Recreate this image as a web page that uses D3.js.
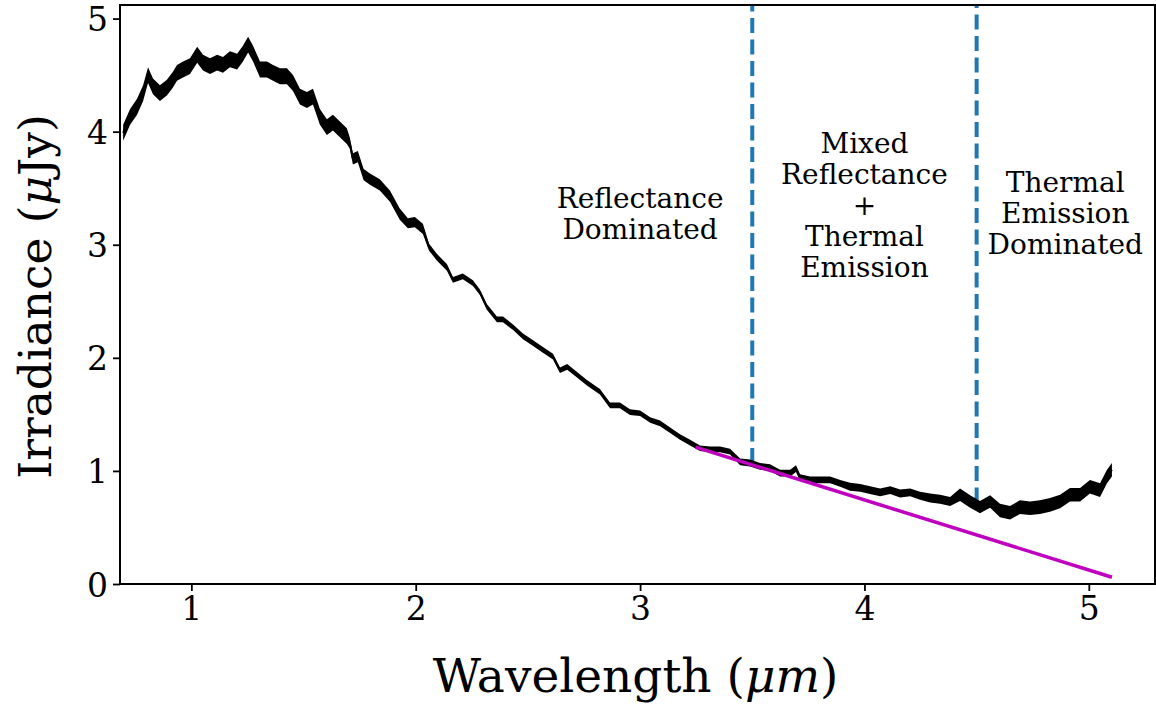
<!DOCTYPE html>
<html>
<head>
<meta charset="utf-8">
<script src="https://cdn.jsdelivr.net/npm/d3@7"></script>
<style>
  body { margin: 0; background: #fff; }
</style>
</head>
<body>
<div id="chart"></div>
<script>
const width = 1156
const height = 704
const margin = { top: 5, right: 1, bottom: 120, left: 120 }
const serif = '"DejaVu Serif", serif'

// spectrum (µm, µJy, half-width of the noise band)
const wavelength = [
  0.696, 0.727, 0.758, 0.785, 0.807, 0.829, 0.860, 0.891, 0.918, 0.936,
  0.963, 0.994, 1.026, 1.052, 1.083, 1.115, 1.141, 1.172, 1.204, 1.230,
  1.253, 1.275, 1.306, 1.337, 1.364, 1.395, 1.426, 1.453, 1.484, 1.515,
  1.542, 1.573, 1.604, 1.631, 1.662, 1.693, 1.706, 1.720, 1.742, 1.768,
  1.796, 1.840, 1.885, 1.929, 1.965, 1.996, 2.032, 2.059, 2.094, 2.139,
  2.166, 2.210, 2.255, 2.286, 2.317, 2.362, 2.389, 2.434, 2.478, 2.523,
  2.567, 2.612, 2.643, 2.675, 2.719, 2.763, 2.821, 2.866, 2.910, 2.955,
  3.000, 3.045, 3.089, 3.134, 3.178, 3.223, 3.267, 3.312, 3.357, 3.401,
  3.446, 3.490, 3.535, 3.579, 3.624, 3.669, 3.695, 3.713, 3.758, 3.802,
  3.847, 3.892, 3.936, 3.981, 4.025, 4.070, 4.115, 4.159, 4.204, 4.248,
  4.293, 4.337, 4.382, 4.426, 4.471, 4.515, 4.560, 4.604, 4.649, 4.693,
  4.738, 4.782, 4.827, 4.872, 4.916, 4.961, 5.005, 5.050, 5.081, 5.103
]
const irradiance = [
  3.99, 4.13, 4.22, 4.34, 4.50, 4.40, 4.34, 4.39, 4.46, 4.52,
  4.55, 4.58, 4.68, 4.61, 4.58, 4.61, 4.59, 4.64, 4.62, 4.69,
  4.77, 4.69, 4.55, 4.55, 4.52, 4.49, 4.49, 4.43, 4.31, 4.28,
  4.31, 4.13, 4.04, 4.08, 4.02, 3.96, 3.90, 3.76, 3.78, 3.62,
  3.58, 3.53, 3.43, 3.27, 3.19, 3.20, 3.14, 2.98, 2.89, 2.80,
  2.69, 2.72, 2.66, 2.58, 2.45, 2.34, 2.34, 2.27, 2.19, 2.13,
  2.07, 2.01, 1.89, 1.92, 1.85, 1.78, 1.70, 1.58, 1.58, 1.52,
  1.51, 1.45, 1.42, 1.36, 1.30, 1.25, 1.20, 1.19, 1.19, 1.17,
  1.08, 1.07, 1.04, 1.03, 0.98, 0.98, 1.02, 0.94, 0.92, 0.92,
  0.92, 0.89, 0.86, 0.85, 0.83, 0.81, 0.83, 0.80, 0.81, 0.78,
  0.76, 0.75, 0.73, 0.79, 0.73, 0.68, 0.73, 0.65, 0.63, 0.68,
  0.67, 0.68, 0.70, 0.73, 0.79, 0.79, 0.86, 0.83, 0.95, 1.01
]
const irradianceErr = [
  0.07, 0.07, 0.07, 0.07, 0.07, 0.07, 0.07, 0.07, 0.07, 0.07,
  0.07, 0.07, 0.07, 0.07, 0.07, 0.07, 0.07, 0.07, 0.07, 0.07,
  0.07, 0.07, 0.07, 0.07, 0.07, 0.07, 0.07, 0.07, 0.07, 0.07,
  0.07, 0.07, 0.07, 0.07, 0.07, 0.07, 0.05, 0.05, 0.05, 0.05,
  0.05, 0.05, 0.05, 0.05, 0.045, 0.045, 0.045, 0.03, 0.03, 0.03,
  0.025, 0.025, 0.025, 0.025, 0.025, 0.025, 0.025, 0.025, 0.025, 0.025,
  0.025, 0.025, 0.025, 0.025, 0.025, 0.025, 0.025, 0.025, 0.025, 0.025,
  0.025, 0.025, 0.025, 0.025, 0.025, 0.025, 0.025, 0.025, 0.025, 0.025,
  0.03, 0.03, 0.03, 0.03, 0.03, 0.03, 0.03, 0.03, 0.03, 0.03,
  0.03, 0.03, 0.035, 0.035, 0.035, 0.035, 0.035, 0.035, 0.035, 0.035,
  0.04, 0.04, 0.04, 0.055, 0.055, 0.055, 0.055, 0.06, 0.06, 0.06,
  0.06, 0.06, 0.06, 0.06, 0.06, 0.06, 0.06, 0.06, 0.06, 0.06
]

// reflectance extrapolation (magenta)
const fitWavelength = [3.247, 5.103]
const fitIrradiance = [1.21, 0.06]

// region boundaries: wavelength and the spectrum value they start from
const boundaryWavelength = [3.5, 4.5]
const boundaryFrom = [1.07, 0.72]

const regionX = [3.0, 4.0, 4.895]
const regionY = [3.325, 3.81, 3.465]
const regionText = [
  ['Reflectance', 'Dominated'],
  ['Mixed', 'Reflectance', '+', 'Thermal', 'Emission'],
  ['Thermal', 'Emission', 'Dominated']
]

const xTicks = [1, 2, 3, 4, 5]
const yTicks = [0, 1, 2, 3, 4, 5]
const xDomain = [0.682, 5.295]
const yDomain = [0, 5.12]

const innerWidth = width - margin.left - margin.right
const innerHeight = height - margin.top - margin.bottom

const svg = d3.select('#chart').append('svg')
  .attr('width', width)
  .attr('height', height)

const g = svg.append('g')
  .attr('transform', `translate(${margin.left}, ${margin.top})`)

const xScale = d3.scaleLinear().domain(xDomain).range([0, innerWidth])
const yScale = d3.scaleLinear().domain(yDomain).range([innerHeight, 0])

const spectrum = wavelength.map((w, i) => ({ w: w, v: irradiance[i], e: irradianceErr[i] }))

// dashed region boundaries (under the spectrum)
g.selectAll('.boundary').data(boundaryWavelength)
  .join('line')
  .attr('class', 'boundary')
  .attr('x1', d => xScale(d))
  .attr('x2', d => xScale(d))
  .attr('y1', (d, i) => yScale(boundaryFrom[i]))
  .attr('y2', yScale(yDomain[1]))
  .attr('stroke', '#1f77b4')
  .attr('stroke-width', 4)
  .attr('stroke-dasharray', '15,6.5')

// noise band + centre line
g.append('path')
  .datum(spectrum)
  .attr('fill', '#000')
  .attr('d', d3.area()
    .x(d => xScale(d.w))
    .y0(d => yScale(d.v - d.e))
    .y1(d => yScale(d.v + d.e)))

g.append('path')
  .datum(spectrum)
  .attr('fill', 'none')
  .attr('stroke', '#000')
  .attr('stroke-width', 2)
  .attr('stroke-linejoin', 'round')
  .attr('d', d3.line().x(d => xScale(d.w)).y(d => yScale(d.v)))

// fit line
g.append('path')
  .datum(fitWavelength.map((w, i) => [w, fitIrradiance[i]]))
  .attr('fill', 'none')
  .attr('stroke', '#bf00bf')
  .attr('stroke-width', 3.5)
  .attr('d', d3.line().x(d => xScale(d[0])).y(d => yScale(d[1])))

// region labels, one text per line
regionText.forEach((lines, i) => {
  g.selectAll(`.region${i}`).data(lines)
    .join('text')
    .attr('class', `region${i}`)
    .attr('x', xScale(regionX[i]))
    .attr('y', (d, j) => yScale(regionY[i]) + j * 31)
    .attr('text-anchor', 'middle')
    .attr('font-family', serif)
    .attr('font-size', 28)
    .attr('fill', '#000')
    .text(d => d)
})

// axes
const xAxis = g.append('g')
  .attr('transform', `translate(0, ${innerHeight})`)
  .call(d3.axisBottom(xScale).tickValues(xTicks).tickFormat(d3.format('d')).tickSize(7).tickPadding(5))
const yAxis = g.append('g')
  .call(d3.axisLeft(yScale).tickValues(yTicks).tickFormat(d3.format('d')).tickSize(7).tickPadding(5))

;[xAxis, yAxis].forEach(a => {
  a.select('.domain').remove()
  a.selectAll('.tick line').attr('stroke', '#000').attr('stroke-width', 1.8)
  a.selectAll('.tick text')
    .attr('font-family', serif)
    .attr('font-size', 33)
    .attr('fill', '#000')
    .attr('dy', null)
})
// explicit baselines instead of the em offsets
xAxis.selectAll('.tick text').attr('y', 36)
yAxis.selectAll('.tick text').attr('y', 12)

// frame
g.append('rect')
  .attr('width', innerWidth)
  .attr('height', innerHeight)
  .attr('fill', 'none')
  .attr('stroke', '#000')
  .attr('stroke-width', 2)

// axis titles
svg.append('text')
  .attr('x', margin.left + innerWidth / 2 - 2)
  .attr('y', 692)
  .attr('text-anchor', 'middle')
  .attr('font-family', serif)
  .attr('font-size', 47)
  .attr('fill', '#000')
  .html('Wavelength (<tspan font-style="italic">μm</tspan>)')

svg.append('text')
  .attr('transform', `translate(51, ${margin.top + innerHeight / 2 + 2}) rotate(-90)`)
  .attr('text-anchor', 'middle')
  .attr('font-family', serif)
  .attr('font-size', 45.5)
  .attr('fill', '#000')
  .html('Irradiance (<tspan font-style="italic">μ</tspan>Jy)')
</script>
</body>
</html>
